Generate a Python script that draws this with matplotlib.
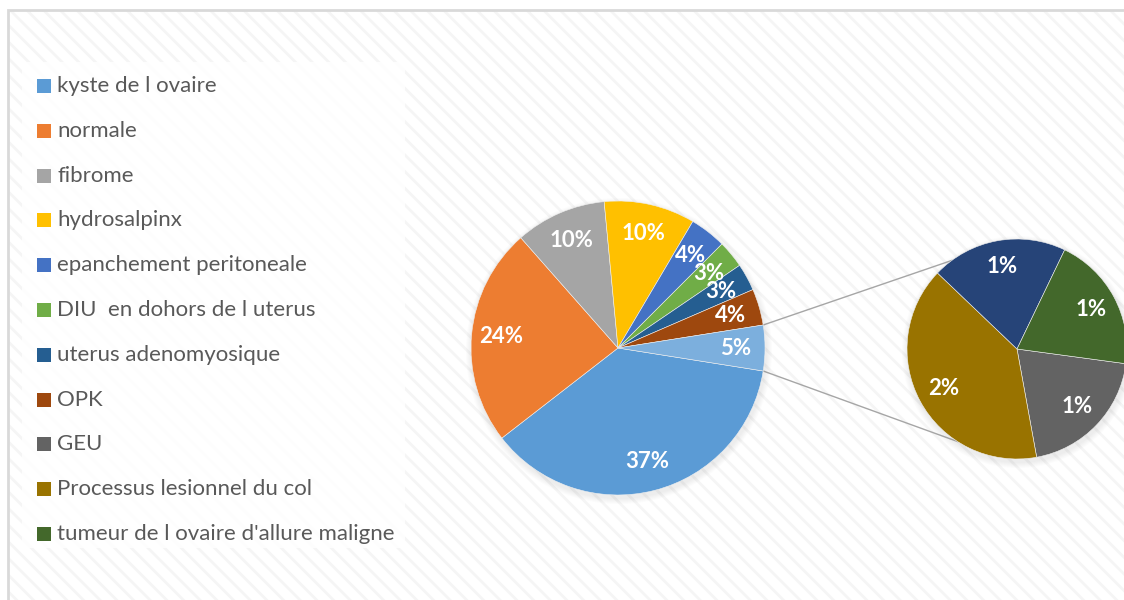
import numpy as np
import matplotlib.pyplot as plt
from matplotlib.patches import Rectangle, Circle

plt.rcParams['font.family'] = ['Lato', 'DejaVu Sans']
plt.rcParams['hatch.linewidth'] = 2.0

# pie principal (pourcentages)
noms = ["kyste de l ovaire", "normale", "fibrome", "hydrosalpinx",
        "epanchement peritoneale", "DIU  en dohors de l uterus",
        "uterus adenomyosique", "OPK"]
valeurs = [37, 24, 10, 10, 4, 3, 3, 4]
couleurs = ["#5B9BD5", "#ED7D31", "#A5A5A5", "#FFC000",
            "#4472C4", "#70AD47", "#255E91", "#9E480E"]
couleur_autre = "#7CAFDD"

# second pie (detail de "autre"), dans l'ordre de dessin
noms2 = ["GEU", "Processus lesionnel du col", "", "tumeur de l ovaire d'allure maligne"]
valeurs2 = [1, 2, 1, 1]
couleurs2 = ["#636363", "#997300", "#264478", "#43682B"]

H = 600
fig = plt.figure(figsize=(11.24, 6), dpi=100)
ax = fig.add_axes([0, 0, 1, 1])

# fond raye + cadre
ax.add_patch(Rectangle((8, -20), 1140, H - 10 + 20, facecolor='white',
                       edgecolor='#F5F5F5', hatch='\\\\', lw=0, zorder=0))
ax.add_patch(Rectangle((8, -20), 1140, H - 10 + 20, facecolor='none',
                       edgecolor='#D9D9D9', lw=2, zorder=1))
ax.add_patch(Rectangle((22, H - 548), 383, 486, facecolor='white',
                       edgecolor='none', alpha=0.85, zorder=1))

c1, r1 = (618, H - 348), 147
c2, r2 = (1017, H - 349), 110

# ombre douce sous les deux pies
for c, r in [(c1, r1), (c2, r2)]:
    for k in range(6):
        ax.add_patch(Circle((c[0] + 1, c[1] - 3), r + 6 - k, color='#808080',
                            alpha=0.025, lw=0, zorder=2))

total = sum(valeurs) + sum(valeurs2)
autre = sum(valeurs2)
w1, _, t1 = ax.pie(valeurs + [autre], colors=couleurs + [couleur_autre],
                   center=c1, radius=r1, startangle=-9, counterclock=False,
                   autopct=lambda p: f"{p * total / 100:.0f}%", pctdistance=0.8,
                   wedgeprops=dict(lw=0.4, edgecolor='#F0F0F0', zorder=3), frame=True)
w2, _, t2 = ax.pie(valeurs2, colors=couleurs2, center=c2, radius=r2,
                   startangle=-7.7, counterclock=False,
                   autopct=lambda p: f"{p * autre / 100:.0f}%", pctdistance=0.76,
                   wedgeprops=dict(lw=0.4, edgecolor='#F0F0F0', zorder=3), frame=True)
ax.set_xlim(0, 1124)
ax.set_ylim(0, H)
ax.set_aspect('equal')
ax.axis('off')
for t in t1 + t2:
    t.set_color('white')
    t.set_fontsize(16)
    t.set_fontweight('bold')
    t.set_zorder(4)

# lignes de liaison : bord haut -> haut du second pie, bord bas -> bas
wa = w1[-1]
a_haut = max(wa.theta1, wa.theta2)
a_bas = min(wa.theta1, wa.theta2)
for a1, a2 in [(a_haut, 126.4), (a_bas, 237.2)]:
    p1 = (c1[0] + r1 * np.cos(np.radians(a1)), c1[1] + r1 * np.sin(np.radians(a1)))
    p2 = (c2[0] + r2 * np.cos(np.radians(a2)), c2[1] + r2 * np.sin(np.radians(a2)))
    ax.plot([p1[0], p2[0]], [p1[1], p2[1]], color='#A6A6A6', lw=1, zorder=1.5)

# legende
leg_noms = noms + [noms2[0], noms2[1], noms2[3]]
leg_coul = couleurs + [couleurs2[0], couleurs2[1], couleurs2[3]]
for i, (n, col) in enumerate(zip(leg_noms, leg_coul)):
    y = H - (86 + i * 44.8)
    ax.add_patch(Rectangle((37, y - 7), 14, 14, color=col, lw=0, zorder=3))
    ax.text(57, y, n, color='#595959', fontsize=16, va='center', ha='left', zorder=3)

fig.savefig('out.png', dpi=100)
